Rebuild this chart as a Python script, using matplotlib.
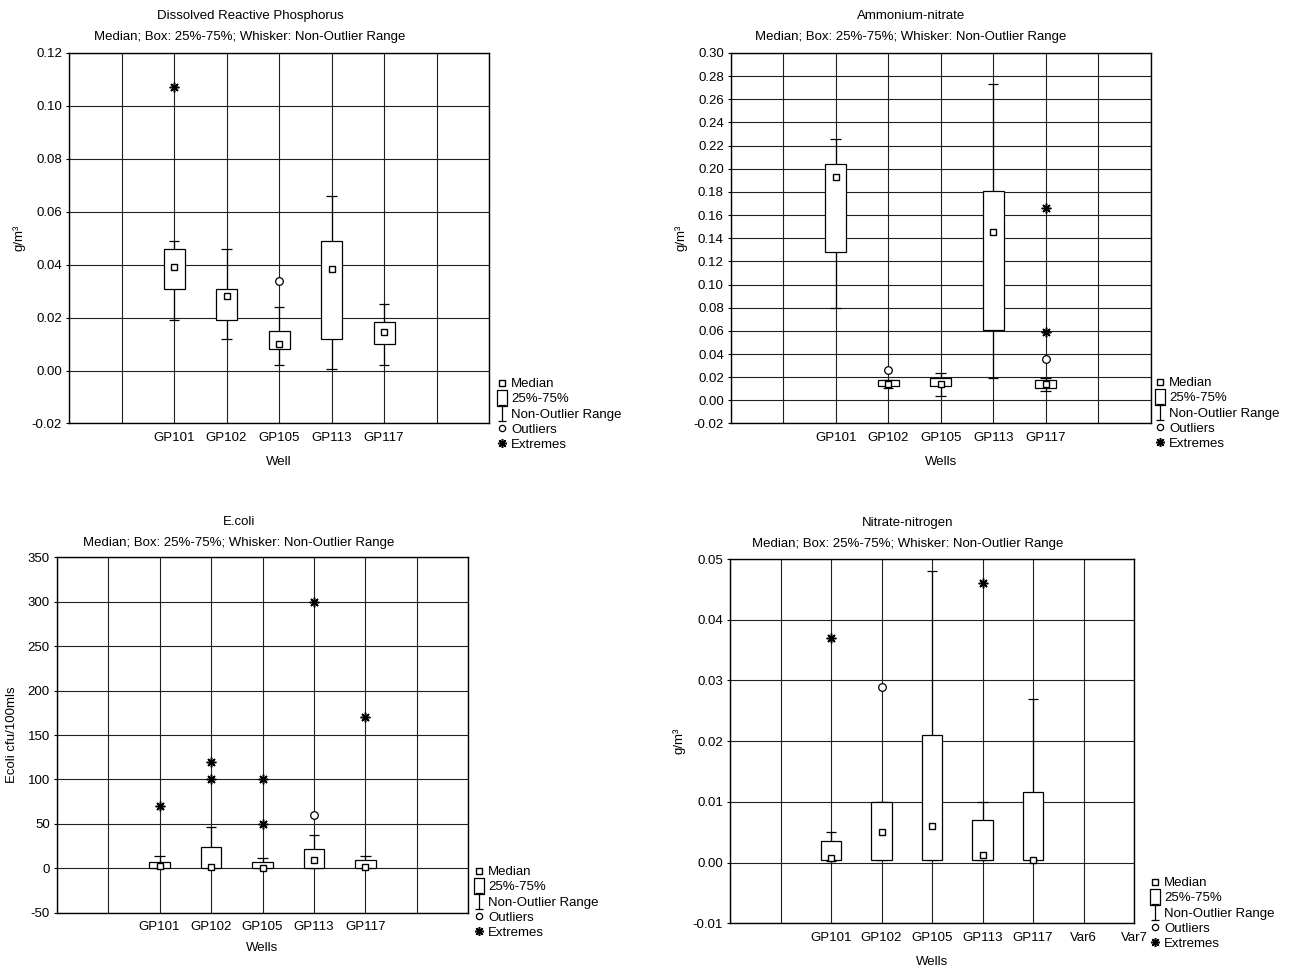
import numpy as np
import matplotlib
matplotlib.use("Agg")
import matplotlib.pyplot as plt
from matplotlib.lines import Line2D
from matplotlib.path import Path

plt.rcParams['font.family'] = ['Liberation Sans', 'DejaVu Sans']
plt.rcParams['font.size'] = 9.5

# ---------------- DATA ----------------
wells = ["GP101", "GP102", "GP105", "GP113", "GP117"]

# Dissolved Reactive Phosphorus
drp_median = [0.039, 0.028, 0.010, 0.0385, 0.0145]
drp_q1 = [0.031, 0.019, 0.008, 0.012, 0.010]
drp_q3 = [0.046, 0.031, 0.015, 0.049, 0.0184]
drp_lo = [0.019, 0.012, 0.002, 0.0006, 0.002]
drp_hi = [0.049, 0.046, 0.024, 0.066, 0.025]
drp_outliers = [[], [], [0.034], [], []]
drp_extremes = [[0.107], [], [], [], []]

# Ammonium-nitrate
amm_median = [0.193, 0.0145, 0.0145, 0.145, 0.0139]
amm_q1 = [0.128, 0.012, 0.012, 0.061, 0.0107]
amm_q3 = [0.204, 0.0176, 0.0194, 0.181, 0.0176]
amm_lo = [0.080, 0.011, 0.004, 0.019, 0.0084]
amm_hi = [0.226, 0.018, 0.024, 0.273, 0.019]
amm_outliers = [[], [0.026], [], [], [0.036]]
amm_extremes = [[], [], [], [], [0.166, 0.059]]

# E.coli
eco_median = [2.3, 1.5, 0.5, 9.0, 1.5]
eco_q1 = [0, 0, 0, 0, 0]
eco_q3 = [7, 24, 7, 22, 9]
eco_lo = [0, 0, 0, 0, 0]
eco_hi = [14, 47, 12, 37, 14]
eco_outliers = [[], [], [], [60], []]
eco_extremes = [[70], [120, 100], [100, 50], [300], [170]]

# Nitrate-nitrogen (two empty variables Var6, Var7 on the axis)
nit_labels = wells + ["Var6", "Var7"]
nit_median = [0.0008, 0.005, 0.006, 0.0013, 0.0005]
nit_q1 = [0.0005, 0.0005, 0.0005, 0.0005, 0.0005]
nit_q3 = [0.0035, 0.010, 0.021, 0.007, 0.0116]
nit_lo = [0.0003, 0.0005, 0.0005, 0.0005, 0.0005]
nit_hi = [0.005, 0.010, 0.048, 0.010, 0.027]
nit_outliers = [[], [0.029], [], [], []]
nit_extremes = [[0.037], [], [], [0.046], []]

SUBTITLE = "Median; Box: 25%-75%; Whisker: Non-Outlier Range"
W, H = 1298, 967

# --- markers ---
box_marker = Path([(-0.55, -1), (0.55, -1), (0.55, 1), (-0.55, 1), (-0.55, -1)],
                  [Path.MOVETO, Path.LINETO, Path.LINETO, Path.LINETO, Path.CLOSEPOLY])
ibeam_marker = Path([(-0.5, 1), (0.5, 1), (0, 1), (0, -1), (-0.5, -1), (0.5, -1)],
                    [Path.MOVETO, Path.LINETO, Path.MOVETO, Path.LINETO, Path.MOVETO, Path.LINETO])
star = (8, 2, 0)


def draw_panel(ax, labels, med, q1, q3, lo, hi, outl, extr, ylim, ystep, fmt):
    n_slots = 8
    pos = np.arange(len(med)) + 2
    ax.set_xlim(0, n_slots)
    ticks = np.arange(0, n_slots + 1)
    ticklabels = [''] * len(ticks)
    for i, lab in enumerate(labels):
        ticklabels[i + 2] = lab
    ax.set_xticks(ticks)
    ax.set_xticklabels(ticklabels)
    ax.set_ylim(*ylim)
    yt = np.arange(ylim[0], ylim[1] + ystep / 2, ystep)
    ax.set_yticks(yt)
    ax.set_yticklabels([fmt.format(v + 0.0) for v in yt])
    ax.grid(True, color='#202020', linewidth=0.8)
    ax.set_axisbelow(True)
    ax.tick_params(axis='x', length=0, pad=6)
    ax.tick_params(axis='y', length=2, direction='out', pad=3)
    for s in ax.spines.values():
        s.set_linewidth(1.0)

    # whiskers and caps
    ax.vlines(pos, lo, q1, color='black', linewidth=0.9, zorder=3)
    ax.vlines(pos, q3, hi, color='black', linewidth=0.9, zorder=3)
    ax.hlines(hi, pos - 0.1, pos + 0.1, color='black', linewidth=0.9, zorder=3)
    ax.hlines(lo, pos - 0.1, pos + 0.1, color='black', linewidth=0.9, zorder=3)
    # boxes
    ax.bar(pos, np.array(q3) - np.array(q1), bottom=q1, width=0.4,
           facecolor='white', edgecolor='black', linewidth=0.9, zorder=4)
    # medians
    ax.plot(pos, med, linestyle='none', marker='s', markersize=5,
            markerfacecolor='white', markeredgecolor='black', markeredgewidth=1.0, zorder=5)
    for p, vals in zip(pos, outl):
        if vals:
            ax.plot([p] * len(vals), vals, linestyle='none', marker='o', markersize=5.5,
                    markerfacecolor='white', markeredgecolor='black', markeredgewidth=0.9, zorder=5)
    for p, vals in zip(pos, extr):
        if vals:
            ax.plot([p] * len(vals), vals, linestyle='none', marker=star, markersize=7,
                    color='black', markeredgewidth=1.1, zorder=5)


def add_legend(ax, fig, x_px, y_px):
    handles = [
        Line2D([], [], linestyle='none', marker='s', markersize=5,
               markerfacecolor='white', markeredgecolor='black', markeredgewidth=1.0),
        Line2D([], [], linestyle='none', marker=box_marker, markersize=12,
               markerfacecolor='white', markeredgecolor='black', markeredgewidth=0.9),
        Line2D([], [], linestyle='none', marker=ibeam_marker, markersize=12,
               markerfacecolor='none', markeredgecolor='black', markeredgewidth=0.9),
        Line2D([], [], linestyle='none', marker='o', markersize=4.5,
               markerfacecolor='white', markeredgecolor='black', markeredgewidth=0.9),
        Line2D([], [], linestyle='none', marker=star, markersize=6.5,
               color='black', markeredgewidth=1.1),
    ]
    names = ["Median", "25%-75%", "Non-Outlier Range", "Outliers", "Extremes"]
    ax.legend(handles, names, loc='upper left',
              bbox_to_anchor=(x_px / W, 1 - y_px / H), bbox_transform=fig.transFigure,
              frameon=False, borderpad=0, borderaxespad=0, handlelength=0.8,
              handletextpad=0.3, labelspacing=0.22, fontsize=9.5)


fig = plt.figure(figsize=(W / 100, H / 100), dpi=100)

# axes rectangles from pixel frames (left, top, right, bottom)
frames = [(69, 53, 489, 423.5), (730.7, 53, 1150.7, 423.5),
          (56.7, 557.3, 468.3, 912.7), (730, 559, 1134, 923.3)]
axes = [fig.add_axes([l / W, 1 - b / H, (r - l) / W, (b - t) / H]) for l, t, r, b in frames]

draw_panel(axes[0], wells, drp_median, drp_q1, drp_q3, drp_lo, drp_hi,
           drp_outliers, drp_extremes, (-0.02, 0.12), 0.02, "{:.2f}")
draw_panel(axes[1], wells, amm_median, amm_q1, amm_q3, amm_lo, amm_hi,
           amm_outliers, amm_extremes, (-0.02, 0.30), 0.02, "{:.2f}")
draw_panel(axes[2], wells, eco_median, eco_q1, eco_q3, eco_lo, eco_hi,
           eco_outliers, eco_extremes, (-50, 350), 50, "{:.0f}")
draw_panel(axes[3], nit_labels, nit_median, nit_q1, nit_q3, nit_lo, nit_hi,
           nit_outliers, nit_extremes, (-0.01, 0.05), 0.01, "{:.2f}")

# titles
titles = [("Dissolved Reactive Phosphorus", 250, 15.7), ("Ammonium-nitrate", 911, 15.7),
          ("E.coli", 239, 522), ("Nitrate-nitrogen", 908, 522.7)]
for text, x, y in titles:
    fig.text(x / W, 1 - y / H, text, ha='center', va='center', fontsize=9.5)
    fig.text(x / W, 1 - (y + 21) / H, SUBTITLE, ha='center', va='center', fontsize=9.5)

# axis labels
ylabels = [("g/m³", 18.7, 238), ("g/m³", 681, 238),
           ("Ecoli cfu/100mls", 12.4, 735), ("g/m³", 679, 741)]
for text, x, y in ylabels:
    fig.text(x / W, 1 - y / H, text, ha='center', va='center', rotation=90, fontsize=9.5)

xlabels = [("Well", 461.7), ("Wells", 461.7), ("Wells", 948.3), ("Wells", 961.7)]
for ax, (text, y), (l, t, r, b) in zip(axes, xlabels, frames):
    fig.text((l + r) / 2 / W, 1 - y / H, text, ha='center', va='center', fontsize=9.5)

# legends
legend_pos = [(496.7, 378), (1154.7, 377), (473.7, 866), (1149.7, 877)]
for ax, (x, y) in zip(axes, legend_pos):
    add_legend(ax, fig, x, y)

fig.savefig("out.png", dpi=100, facecolor='white')
